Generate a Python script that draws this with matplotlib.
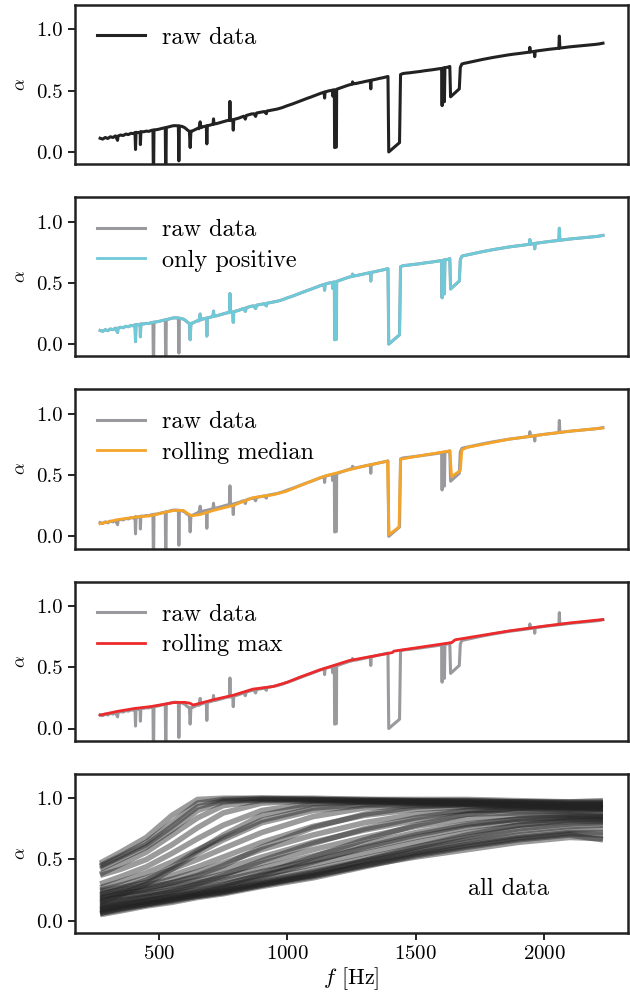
import numpy as np
import matplotlib
matplotlib.use('Agg')
import matplotlib.pyplot as plt

plt.rcParams['font.family'] = 'serif'
plt.rcParams['font.serif'] = ['cmr10']
plt.rcParams['mathtext.fontset'] = 'cm'
plt.rcParams['axes.unicode_minus'] = False
plt.rcParams['axes.formatter.use_mathtext'] = True

raw = [
    (270, 0.112), (280, 0.105), (290, 0.118), (300, 0.110), (310, 0.124), (320, 0.118),
    (330, 0.131), (338, 0.095), (340, 0.130), (350, 0.138), (360, 0.134), (370, 0.146),
    (380, 0.142), (390, 0.152), (400, 0.150), (406, 0.158), (408, 0.020), (410, 0.160),
    (420, 0.158), (426, 0.162), (427, 0.060), (429, 0.165), (440, 0.165), (450, 0.170),
    (460, 0.168), (470, 0.176), (476, 0.178), (478, -0.30), (480, 0.180), (490, 0.182),
    (500, 0.186), (510, 0.192), (520, 0.196), (524, 0.198), (526, -0.30), (528, 0.200),
    (540, 0.206), (550, 0.212), (560, 0.215), (570, 0.214), (575, 0.213), (577, -0.073),
    (579, 0.212), (590, 0.208), (600, 0.198), (610, 0.180), (618, 0.168), (621, 0.036),
    (624, 0.170), (630, 0.172), (640, 0.182), (650, 0.192), (655, 0.190), (660, 0.246),
    (663, 0.198), (670, 0.205), (680, 0.210), (684, 0.212), (686, 0.066), (688, 0.214),
    (700, 0.220), (710, 0.226), (712, 0.270), (714, 0.228), (725, 0.232), (735, 0.238),
    (745, 0.244), (755, 0.250), (765, 0.256), (774, 0.258), (776, 0.413), (778, 0.258),
    (787, 0.262), (789, 0.178), (791, 0.265), (800, 0.270), (810, 0.276), (820, 0.284),
    (830, 0.292), (836, 0.268), (840, 0.298), (850, 0.304), (860, 0.310), (870, 0.312),
    (876, 0.290), (880, 0.318), (890, 0.322), (900, 0.326), (910, 0.330), (918, 0.312),
    (920, 0.334), (930, 0.338), (940, 0.342), (950, 0.346), (960, 0.350), (970, 0.356),
    (980, 0.362), (990, 0.370), (1000, 0.378), (1010, 0.385), (1020, 0.392), (1030, 0.400),
    (1040, 0.408), (1050, 0.416), (1060, 0.424), (1070, 0.432), (1080, 0.440), (1090, 0.447),
    (1100, 0.455), (1110, 0.463), (1120, 0.471), (1130, 0.479), (1143, 0.488), (1145, 0.440),
    (1147, 0.490), (1160, 0.498), (1175, 0.504), (1177, 0.455), (1179, 0.506), (1183, 0.508),
    (1184, 0.036), (1191, 0.040), (1192, 0.512), (1200, 0.518), (1210, 0.525), (1220, 0.533),
    (1230, 0.540), (1240, 0.547), (1252, 0.553), (1254, 0.572), (1256, 0.556), (1270, 0.560),
    (1280, 0.565), (1290, 0.569), (1300, 0.574), (1310, 0.578), (1323, 0.584), (1325, 0.515),
    (1327, 0.586), (1340, 0.591), (1350, 0.596), (1360, 0.601), (1370, 0.605), (1380, 0.610),
    (1392, 0.616), (1395, 0.000), (1437, 0.076), (1441, 0.632), (1450, 0.640), (1460, 0.643),
    (1475, 0.646), (1490, 0.650), (1505, 0.654), (1520, 0.658), (1535, 0.663), (1550, 0.667),
    (1565, 0.671), (1580, 0.676), (1590, 0.679), (1601, 0.682), (1603, 0.378), (1605, 0.684),
    (1610, 0.686), (1612, 0.410), (1614, 0.688), (1625, 0.692), (1633, 0.698), (1636, 0.450),
    (1670, 0.515), (1674, 0.690), (1680, 0.718), (1690, 0.724), (1700, 0.728), (1720, 0.737),
    (1740, 0.746), (1760, 0.755), (1780, 0.763), (1800, 0.771), (1820, 0.778), (1840, 0.785),
    (1860, 0.792), (1880, 0.798), (1900, 0.803), (1920, 0.809), (1943, 0.815), (1945, 0.854),
    (1947, 0.816), (1962, 0.821), (1964, 0.778), (1966, 0.823), (1980, 0.827), (2000, 0.832),
    (2020, 0.838), (2040, 0.843), (2058, 0.847), (2060, 0.946), (2062, 0.848), (2080, 0.853),
    (2100, 0.858), (2120, 0.862), (2140, 0.866), (2160, 0.870), (2180, 0.874), (2200, 0.878),
    (2215, 0.882), (2230, 0.888),
]
raw_f = np.array([p[0] for p in raw], dtype=float)
raw_a = np.array([p[1] for p in raw])

# rolling median
med_f = [270, 337, 400, 466, 520, 557, 595, 612, 628, 660, 711, 789, 866, 944, 996, 1047,
         1112, 1150, 1215, 1300, 1390, 1396, 1435, 1441, 1500, 1633, 1640, 1674, 1680, 1700,
         1861, 2000, 2100, 2229]
med_a = [0.103, 0.136, 0.155, 0.168, 0.195, 0.211, 0.211, 0.185, 0.168, 0.178, 0.211, 0.252,
         0.316, 0.339, 0.368, 0.412, 0.466, 0.495, 0.530, 0.574, 0.614, 0.014, 0.076, 0.629,
         0.652, 0.698, 0.488, 0.537, 0.705, 0.726, 0.792, 0.832, 0.858, 0.884]

# rolling max
max_f = [270, 337, 402, 470, 557, 600, 621, 632, 660, 711, 789, 866, 944, 1000, 1047, 1125,
         1241, 1409, 1415, 1641, 1653, 1861, 2000, 2100, 2229]
max_a = [0.110, 0.140, 0.163, 0.180, 0.212, 0.214, 0.206, 0.192, 0.206, 0.235, 0.272, 0.322,
         0.343, 0.378, 0.418, 0.478, 0.555, 0.620, 0.632, 0.702, 0.724, 0.796, 0.836, 0.862,
         0.890]

# all measured samples
all_f = [270, 350, 450, 550, 650, 750, 900, 1100, 1300, 1500, 1700, 1900, 2100, 2230]
all_curves = [
    [0.47, 0.56, 0.68, 0.86, 0.99, 1.00, 1.00, 1.00, 0.99, 0.99, 0.99, 0.98, 0.97, 0.98],
    [0.45, 0.53, 0.64, 0.80, 0.96, 0.99, 1.00, 0.99, 0.99, 0.98, 0.98, 0.97, 0.97, 0.97],
    [0.42, 0.50, 0.60, 0.74, 0.90, 0.97, 0.99, 0.99, 0.98, 0.98, 0.97, 0.97, 0.96, 0.96],
    [0.38, 0.46, 0.56, 0.70, 0.84, 0.94, 0.98, 0.98, 0.98, 0.97, 0.97, 0.96, 0.95, 0.95],
    [0.37, 0.42, 0.50, 0.62, 0.76, 0.88, 0.96, 0.98, 0.97, 0.97, 0.96, 0.95, 0.94, 0.94],
    [0.30, 0.36, 0.44, 0.55, 0.67, 0.78, 0.90, 0.96, 0.97, 0.96, 0.96, 0.95, 0.93, 0.93],
    [0.27, 0.32, 0.39, 0.48, 0.58, 0.68, 0.82, 0.92, 0.95, 0.96, 0.95, 0.94, 0.92, 0.92],
    [0.25, 0.29, 0.35, 0.42, 0.50, 0.59, 0.72, 0.85, 0.92, 0.94, 0.94, 0.93, 0.91, 0.91],
    [0.24, 0.27, 0.31, 0.37, 0.44, 0.52, 0.64, 0.77, 0.86, 0.91, 0.93, 0.92, 0.90, 0.90],
    [0.22, 0.25, 0.29, 0.34, 0.40, 0.47, 0.58, 0.70, 0.80, 0.87, 0.90, 0.90, 0.89, 0.88],
    [0.20, 0.23, 0.27, 0.31, 0.36, 0.42, 0.52, 0.64, 0.74, 0.82, 0.87, 0.88, 0.87, 0.86],
    [0.19, 0.22, 0.25, 0.29, 0.33, 0.38, 0.47, 0.58, 0.68, 0.77, 0.83, 0.86, 0.86, 0.85],
    [0.17, 0.20, 0.23, 0.27, 0.31, 0.35, 0.43, 0.53, 0.63, 0.72, 0.79, 0.83, 0.84, 0.84],
    [0.16, 0.19, 0.22, 0.25, 0.29, 0.33, 0.40, 0.49, 0.59, 0.68, 0.76, 0.81, 0.83, 0.83],
    [0.14, 0.17, 0.20, 0.23, 0.27, 0.30, 0.37, 0.46, 0.55, 0.64, 0.72, 0.78, 0.81, 0.81],
    [0.13, 0.16, 0.19, 0.22, 0.25, 0.28, 0.34, 0.42, 0.51, 0.60, 0.68, 0.75, 0.79, 0.80],
    [0.12, 0.14, 0.17, 0.20, 0.23, 0.26, 0.32, 0.40, 0.49, 0.58, 0.66, 0.73, 0.77, 0.78],
    [0.10, 0.13, 0.16, 0.19, 0.22, 0.25, 0.31, 0.39, 0.48, 0.56, 0.64, 0.70, 0.74, 0.75],
    [0.09, 0.12, 0.15, 0.18, 0.21, 0.24, 0.30, 0.37, 0.46, 0.55, 0.62, 0.68, 0.72, 0.72],
    [0.07, 0.10, 0.13, 0.17, 0.20, 0.23, 0.29, 0.36, 0.45, 0.54, 0.61, 0.67, 0.71, 0.70],
    [0.05, 0.08, 0.12, 0.15, 0.19, 0.22, 0.28, 0.35, 0.44, 0.53, 0.60, 0.66, 0.70, 0.66],
    [0.08, 0.11, 0.14, 0.18, 0.22, 0.27, 0.36, 0.48, 0.60, 0.70, 0.78, 0.83, 0.85, 0.85],
    [0.11, 0.15, 0.19, 0.24, 0.30, 0.37, 0.49, 0.63, 0.75, 0.84, 0.90, 0.92, 0.92, 0.91],
    [0.06, 0.09, 0.13, 0.16, 0.20, 0.23, 0.29, 0.38, 0.49, 0.60, 0.70, 0.78, 0.82, 0.82],
    [0.15, 0.21, 0.30, 0.42, 0.55, 0.66, 0.80, 0.90, 0.94, 0.95, 0.95, 0.94, 0.93, 0.92],
    [0.18, 0.22, 0.26, 0.31, 0.37, 0.45, 0.60, 0.76, 0.87, 0.93, 0.95, 0.94, 0.93, 0.92],
    [0.44, 0.52, 0.62, 0.77, 0.93, 0.98, 0.99, 0.99, 0.98, 0.98, 0.98, 0.97, 0.96, 0.96],
    [0.06, 0.10, 0.14, 0.17, 0.21, 0.24, 0.30, 0.37, 0.45, 0.52, 0.58, 0.64, 0.68, 0.67],
    [0.09, 0.12, 0.16, 0.20, 0.24, 0.29, 0.38, 0.52, 0.66, 0.78, 0.87, 0.92, 0.94, 0.94],
    [0.21, 0.26, 0.33, 0.44, 0.57, 0.70, 0.86, 0.95, 0.97, 0.97, 0.96, 0.96, 0.95, 0.95],
]

BLACK = '#222222'
GRAY = '#9a9a9e'
CYAN = '#6ecad9'
ORANGE = '#f5a42a'
RED = '#ec2a2c'

fig, axes = plt.subplots(5, 1, figsize=(6.3, 9.94), dpi=100, sharex=True)
fig.subplots_adjust(left=0.119, right=0.997, top=0.995, bottom=0.0614, hspace=0.207)

ax = axes[0]
ax.plot(raw_f, raw_a, color=BLACK, lw=2.2, label='raw data')

ax = axes[1]
ax.plot(raw_f, raw_a, color=GRAY, lw=2.2, label='raw data')
pos = raw_a >= 0
ax.plot(raw_f[pos], raw_a[pos], color=CYAN, lw=2.0, label='only positive')

ax = axes[2]
ax.plot(raw_f, raw_a, color=GRAY, lw=2.2, label='raw data')
ax.plot(med_f, med_a, color=ORANGE, lw=2.0, label='rolling median')

ax = axes[3]
ax.plot(raw_f, raw_a, color=GRAY, lw=2.2, label='raw data')
ax.plot(max_f, max_a, color=RED, lw=2.0, label='rolling max')

ax = axes[4]
for c in all_curves:
    ax.plot(all_f, c, color=BLACK, lw=4.0, alpha=0.45, solid_capstyle='butt')
ax.text(0.711, 0.276, 'all data', transform=ax.transAxes, fontsize=17.5,
        ha='left', va='center')

for i, ax in enumerate(axes):
    ax.set_ylim(-0.1, 1.2)
    ax.set_yticks([0.0, 0.5, 1.0])
    ax.set_yticklabels(['0.0', '0.5', '1.0'])
    ax.set_ylabel(r'$\alpha$', fontsize=13, labelpad=6)
    for s in ax.spines.values():
        s.set_linewidth(1.8)
        s.set_color(BLACK)
    ax.tick_params(axis='both', labelsize=15, length=5, width=1.4, color=BLACK)
    if i < 4:
        ax.tick_params(axis='x', bottom=False, labelbottom=False)
        ax.legend(loc='upper left', frameon=False, fontsize=17.5, handlelength=2.0,
                  handletextpad=0.7, labelspacing=0.35)

axes[-1].set_xticks([500, 1000, 1500, 2000])
axes[-1].set_xlabel(r'$f$ [Hz]', fontsize=16, labelpad=2)

fig.savefig('out.png', dpi=100)
